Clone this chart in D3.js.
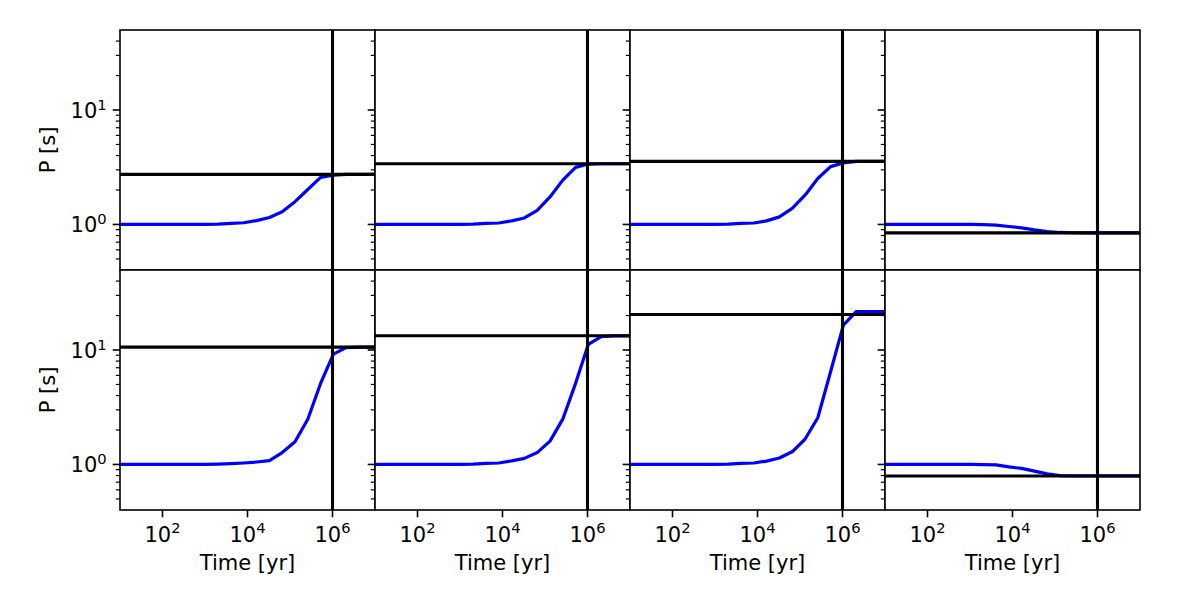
<!DOCTYPE html>
<html>
<head>
<meta charset="utf-8">
<script src="https://cdn.jsdelivr.net/npm/d3@7"></script>
<style>
  html, body { margin: 0; padding: 0; background: #fff; }
  svg { display: block; }
  text { font-family: "DejaVu Sans", sans-serif; fill: #000; }
</style>
</head>
<body>
<svg id="chart" width="1200" height="600"></svg>
<script>
// ---------------- data ----------------
const times = [8, 16, 32, 64, 128, 256, 512, 1024, 2048, 4096, 8192, 16384, 32768,
  65536, 131072, 262144, 524288, 1048576, 2097152, 4194304, 8388608, 16777216];

const periodA = [1, 1, 1, 1, 1, 1, 1, 1, 1.005, 1.02, 1.035, 1.08, 1.15, 1.29, 1.58, 2.02, 2.58, 2.70, 2.74, 2.74, 2.74, 2.74];
const periodB = [1, 1, 1, 1, 1, 1, 1, 1, 1.005, 1.02, 1.03, 1.075, 1.14, 1.33, 1.74, 2.44, 3.15, 3.37, 3.39, 3.39, 3.39, 3.39];
const periodC = [1, 1, 1, 1, 1, 1, 1, 1, 1.005, 1.02, 1.03, 1.075, 1.165, 1.38, 1.80, 2.52, 3.20, 3.45, 3.56, 3.56, 3.56, 3.56];
const periodD = [1, 1, 1, 1, 1, 1, 1, 1, 0.997, 0.985, 0.96, 0.934, 0.897, 0.868, 0.851, 0.846, 0.845, 0.845, 0.845, 0.845, 0.845, 0.845];
const periodE = [1, 1, 1, 1, 1, 1, 1, 1, 1.005, 1.015, 1.03, 1.05, 1.08, 1.27, 1.58, 2.48, 5.1, 9.2, 10.5, 10.6, 10.6, 10.6];
const periodF = [1, 1, 1, 1, 1, 1, 1, 1, 1.005, 1.02, 1.03, 1.075, 1.13, 1.27, 1.60, 2.49, 5.11, 11.2, 13.1, 13.3, 13.3, 13.3];
const periodG = [1, 1, 1, 1, 1, 1, 1, 1, 1.005, 1.02, 1.03, 1.07, 1.14, 1.29, 1.66, 2.56, 6.46, 16.5, 21.6, 21.6, 21.6, 21.6];
const periodH = [1, 1, 1, 1, 1, 1, 1, 1, 0.997, 0.99, 0.953, 0.923, 0.874, 0.828, 0.80, 0.795, 0.795, 0.795, 0.795, 0.795, 0.795, 0.795];

const series = [periodA, periodB, periodC, periodD, periodE, periodF, periodG, periodH];
const equilibrium = [2.74, 3.39, 3.56, 0.845, 10.6, 13.3, 20.4, 0.793];
const markTime = 1e6;

const xDomain = [10, 1e7];
const yDomain = [0.4, 50];
const xTickExps = [2, 4, 6];
const yTickExps = [0, 1];
const xLabel = "Time [yr]";
const yLabel = "P [s]";

// ---------------- layout ----------------
const svg = d3.select("#chart");
const gridLeft = 120, gridTop = 30, pw = 255, ph = 240, nCols = 4, nRows = 2;
const fontSize = 21;
const majorLen = 7.3, minorLen = 4.2;

const defs = svg.append("defs");

series.forEach((vals, i) => {
  const col = i % nCols, row = Math.floor(i / nCols);
  const x0 = gridLeft + col * pw, y0 = gridTop + row * ph;
  const x = d3.scaleLog().domain(xDomain).range([x0, x0 + pw]);
  const y = d3.scaleLog().domain(yDomain).range([y0 + ph, y0]);

  const g = svg.append("g");
  defs.append("clipPath").attr("id", "clip" + i)
    .append("rect").attr("x", x0).attr("y", y0).attr("width", pw).attr("height", ph);

  g.append("rect").attr("x", x0).attr("y", y0).attr("width", pw).attr("height", ph)
    .attr("fill", "#fff");

  const plot = g.append("g").attr("clip-path", `url(#clip${i})`);
  const line = d3.line().x((d, j) => x(times[j])).y(d => y(d));
  plot.append("path").datum(vals).attr("d", line)
    .attr("fill", "none").attr("stroke", "#0000ff").attr("stroke-width", 3.2)
    .attr("stroke-linejoin", "round");
  plot.append("line").attr("x1", x0).attr("x2", x0 + pw)
    .attr("y1", y(equilibrium[i])).attr("y2", y(equilibrium[i]))
    .attr("stroke", "#000").attr("stroke-width", 3.1);
  plot.append("line").attr("x1", x(markTime)).attr("x2", x(markTime))
    .attr("y1", y0).attr("y2", y0 + ph)
    .attr("stroke", "#000").attr("stroke-width", 3.1);

  // frame
  g.append("rect").attr("x", x0).attr("y", y0).attr("width", pw).attr("height", ph)
    .attr("fill", "none").attr("stroke", "#000").attr("stroke-width", 1.6);

  // y ticks (major + minor), outward on the left
  const yMajor = yTickExps.map(e => Math.pow(10, e));
  const yMinor = y.ticks().filter(v => {
    const l = Math.log10(v);
    return Math.abs(l - Math.round(l)) > 1e-9 && y(v) > y0 + 0.5 && y(v) < y0 + ph - 0.5;
  });
  yMajor.forEach(v => {
    g.append("line").attr("x1", x0 - majorLen).attr("x2", x0)
      .attr("y1", y(v)).attr("y2", y(v)).attr("stroke", "#000").attr("stroke-width", 1.6);
  });
  yMinor.forEach(v => {
    g.append("line").attr("x1", x0 - minorLen).attr("x2", x0)
      .attr("y1", y(v)).attr("y2", y(v)).attr("stroke", "#000").attr("stroke-width", 1.2);
  });

  if (col === 0) {
    yTickExps.forEach(e => {
      const t = g.append("text").attr("x", x0 - majorLen - 6).attr("y", y(Math.pow(10, e)) + 8)
        .attr("text-anchor", "end").attr("font-size", fontSize);
      t.append("tspan").text("10");
      t.append("tspan").attr("dy", -8.5).attr("font-size", fontSize * 0.7).text(String(e));
    });
    g.append("text")
      .attr("transform", `translate(${x0 - 65},${y0 + ph / 2}) rotate(-90)`)
      .attr("text-anchor", "middle").attr("font-size", fontSize).text(yLabel);
  }

  if (row === nRows - 1) {
    xTickExps.forEach(e => {
      const v = Math.pow(10, e);
      g.append("line").attr("x1", x(v)).attr("x2", x(v))
        .attr("y1", y0 + ph).attr("y2", y0 + ph + majorLen)
        .attr("stroke", "#000").attr("stroke-width", 1.6);
      const t = g.append("text").attr("x", x(v)).attr("y", y0 + ph + 31.5)
        .attr("text-anchor", "middle").attr("font-size", fontSize);
      t.append("tspan").text("10");
      t.append("tspan").attr("dy", -8.5).attr("font-size", fontSize * 0.7).text(String(e));
    });
    g.append("text").attr("x", x0 + pw / 2).attr("y", y0 + ph + 60)
      .attr("text-anchor", "middle").attr("font-size", fontSize).text(xLabel);
  }
});
</script>
</body>
</html>
